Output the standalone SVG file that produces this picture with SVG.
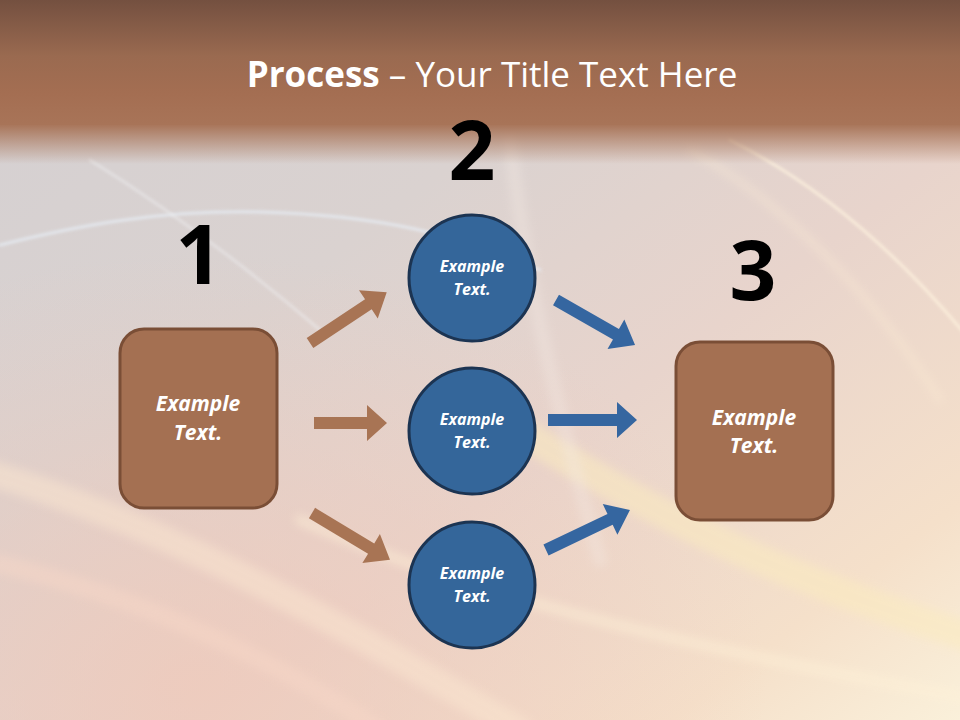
<svg xmlns="http://www.w3.org/2000/svg" width="960" height="720" viewBox="0 0 960 720">
  <defs>
    <linearGradient id="bgTop" x1="0" y1="0" x2="0" y2="1">
      <stop offset="0" stop-color="#745040"/>
      <stop offset="0.45" stop-color="#9A6A50"/>
      <stop offset="0.75" stop-color="#A46E52"/>
      <stop offset="1" stop-color="#A87458"/>
    </linearGradient>
    <linearGradient id="fade" x1="0" y1="0" x2="0" y2="1">
      <stop offset="0" stop-color="#A87458" stop-opacity="1"/>
      <stop offset="1" stop-color="#A87458" stop-opacity="0"/>
    </linearGradient>
    <linearGradient id="bgMain" x1="0" y1="0" x2="1" y2="1">
      <stop offset="0" stop-color="#D4D0D2"/>
      <stop offset="0.35" stop-color="#DAD2D0"/>
      <stop offset="0.6" stop-color="#E8D4CC"/>
      <stop offset="0.85" stop-color="#F5E0CA"/>
      <stop offset="1" stop-color="#FAF0DA"/>
    </linearGradient>
    <radialGradient id="warm" cx="0.2" cy="0.95" r="0.6">
      <stop offset="0" stop-color="#F0C8B8" stop-opacity="0.7"/>
      <stop offset="1" stop-color="#F0C8B8" stop-opacity="0"/>
    </radialGradient>
    <filter id="soft" x="-20%" y="-20%" width="140%" height="140%">
      <feGaussianBlur stdDeviation="5"/>
    </filter>
    <filter id="soft2" x="-20%" y="-20%" width="140%" height="140%">
      <feGaussianBlur stdDeviation="1.5"/>
    </filter>
    <style>
      .title { font-family: "Open Sans", "Liberation Sans", sans-serif; font-size: 35px; fill: #FFFFFF; }
      .num { font-family: "Open Sans", "Liberation Sans", sans-serif; font-size: 82px; font-weight: bold; fill: #000000; text-anchor: middle; }
      .box { fill: #A47052; stroke: #7A4E36; stroke-width: 3; }
      .circ { fill: #34669A; stroke: #1C3452; stroke-width: 3; }
      .btxt { font-family: "Open Sans", "Liberation Sans", sans-serif; font-size: 21px; font-weight: bold; font-style: italic; fill: #FFFFFF; text-anchor: middle; }
      .ctxt { font-family: "Open Sans", "Liberation Sans", sans-serif; font-size: 16px; font-weight: bold; font-style: italic; fill: #FFFFFF; text-anchor: middle; }
      .abrown { fill: #A87454; }
      .ablue { fill: #3566A0; }
    </style>
  </defs>

  <!-- background -->
  <rect x="0" y="0" width="960" height="720" fill="url(#bgMain)"/>
  <rect x="0" y="0" width="960" height="720" fill="url(#warm)"/>
  <g fill="none" stroke-linecap="round">
    <path d="M-20,470 C150,520 300,600 520,730" stroke="#FBE6D0" stroke-width="26" opacity="0.5" filter="url(#soft)"/>
    <path d="M-20,560 C120,590 260,650 380,730" stroke="#F8D8C8" stroke-width="18" opacity="0.45" filter="url(#soft)"/>
    <path d="M470,400 C600,480 720,560 980,640" stroke="#FBEBC0" stroke-width="30" opacity="0.55" filter="url(#soft)"/>
    <path d="M300,520 C480,600 700,650 980,700" stroke="#FFF2D8" stroke-width="10" opacity="0.5" filter="url(#soft)"/>
    <path d="M0,245 C80,225 160,210 260,212 C380,215 460,235 540,270" stroke="#E8F0F8" stroke-width="3" opacity="0.7" filter="url(#soft2)"/>
    <path d="M90,160 C170,210 250,270 320,330" stroke="#EEEEF0" stroke-width="3" opacity="0.5" filter="url(#soft2)"/>
    <path d="M730,140 C820,185 900,255 970,340" stroke="#FFF4E0" stroke-width="3" opacity="0.7" filter="url(#soft2)"/>
    <path d="M690,150 C780,200 870,290 940,400" stroke="#FFF0D8" stroke-width="6" opacity="0.4" filter="url(#soft)"/>
    <path d="M510,140 C525,280 560,420 600,560" stroke="#F4EAE4" stroke-width="14" opacity="0.35" filter="url(#soft)"/>
  </g>
  <rect x="0" y="0" width="960" height="125" fill="url(#bgTop)"/>
  <rect x="0" y="124" width="960" height="40" fill="url(#fade)"/>

  <!-- title -->
  <text class="title" x="492" y="87" text-anchor="middle"><tspan font-weight="bold">Process</tspan> – Your Title Text Here</text>

  <!-- step numbers -->
  <text class="num" x="199" y="284">1</text>
  <text class="num" x="472" y="180">2</text>
  <text class="num" x="753" y="300">3</text>

  <!-- connectors -->
  <g id="connectors">
    <path class="abrown" transform="translate(310,343) rotate(-33.5)" d="M0,-6 H70 V-17 L92,0 L70,17 V6 H0 Z"/>
    <path class="abrown" transform="translate(314,423)" d="M0,-6 H53 V-18 L73,0 L53,18 V6 H0 Z"/>
    <path class="abrown" transform="translate(312,513) rotate(31)" d="M0,-6 H69 V-17 L91,0 L69,17 V6 H0 Z"/>
    <path class="ablue" transform="translate(556,300) rotate(29.7)" d="M0,-6 H69 V-17 L91,0 L69,17 V6 H0 Z"/>
    <path class="ablue" transform="translate(548,420)" d="M0,-6 H69 V-18 L89,0 L69,18 V6 H0 Z"/>
    <path class="ablue" transform="translate(546,550) rotate(-25.5)" d="M0,-6 H71 V-17 L93,0 L71,17 V6 H0 Z"/>
  </g>

  <!-- nodes -->
  <g id="node-box1">
    <rect class="box" x="120" y="329" width="157" height="179" rx="24"/>
    <text class="btxt" x="198" y="411">Example</text>
    <text class="btxt" x="198" y="440">Text.</text>
  </g>
  <g id="node-circle1">
    <circle class="circ" cx="472" cy="278" r="63"/>
    <text class="ctxt" x="472" y="272">Example</text>
    <text class="ctxt" x="472" y="295">Text.</text>
  </g>
  <g id="node-circle2">
    <circle class="circ" cx="472" cy="431" r="63"/>
    <text class="ctxt" x="472" y="425">Example</text>
    <text class="ctxt" x="472" y="448">Text.</text>
  </g>
  <g id="node-circle3">
    <circle class="circ" cx="472" cy="585" r="63"/>
    <text class="ctxt" x="472" y="579">Example</text>
    <text class="ctxt" x="472" y="602">Text.</text>
  </g>
  <g id="node-box3">
    <rect class="box" x="676" y="342" width="157" height="178" rx="24"/>
    <text class="btxt" x="754" y="425">Example</text>
    <text class="btxt" x="754" y="453">Text.</text>
  </g>
</svg>
